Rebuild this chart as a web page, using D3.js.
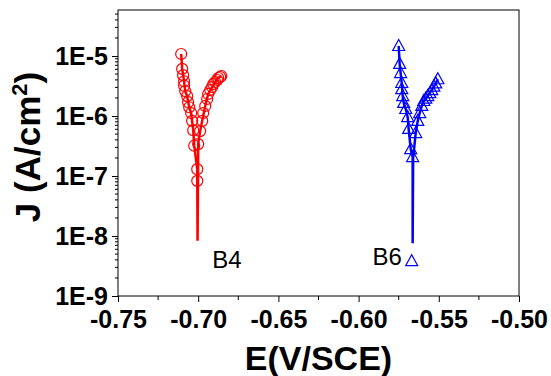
<!DOCTYPE html>
<html>
<head>
<meta charset="utf-8">
<script src="https://cdn.jsdelivr.net/npm/d3@7"></script>
<style>
  body { margin: 0; background: #fff; }
  svg { display: block; font-family: "Liberation Sans", Arial, sans-serif; }
</style>
</head>
<body>
<div id="chart"></div>
<script>
// Tafel curves, E (V vs SCE) vs current density J (A/cm2)
const xTicks = [-0.75, -0.70, -0.65, -0.60, -0.55, -0.50];
const xTickLabels = ["-0.75", "-0.70", "-0.65", "-0.60", "-0.55", "-0.50"];
const yTicks = [1e-9, 1e-8, 1e-7, 1e-6, 1e-5];
const yTickLabels = ["1E-9", "1E-8", "1E-7", "1E-6", "1E-5"];

// B4 : markers
const b4MarkE = [-0.7106, -0.7100, -0.7094, -0.7088, -0.7088, -0.7081, -0.7069, -0.7063, -0.7056, -0.7044,
  -0.7038, -0.7031, -0.7025, -0.7006, -0.7006,
  -0.7000, -0.6988, -0.6975, -0.6969, -0.6956, -0.6944, -0.6938, -0.6925, -0.6913, -0.6906,
  -0.6894, -0.6881, -0.6875, -0.6863, -0.6856];
const b4MarkJ = [1.08e-5, 6.1e-6, 4.8e-6, 3.8e-6, 3.2e-6, 2.6e-6, 2.15e-6, 1.7e-6, 1.4e-6, 1.12e-6,
  8.3e-7, 5.8e-7, 3.2e-7, 1.3e-7, 8.3e-8,
  3.4e-7, 5.6e-7, 8.3e-7, 1.12e-6, 1.47e-6, 1.92e-6, 2.33e-6, 2.71e-6, 3.04e-6, 3.41e-6,
  3.69e-6, 3.98e-6, 4.3e-6, 4.47e-6, 4.64e-6];
// B4 : scan line (includes dip at corrosion potential)
const b4LineE = [-0.7106, -0.7100, -0.7094, -0.7088, -0.7081, -0.7069, -0.7056, -0.7044, -0.7031, -0.7025,
  -0.7006, -0.7006, -0.7004, -0.7001, -0.7000, -0.6988, -0.6975, -0.6956, -0.6938, -0.6913, -0.6894, -0.6875, -0.6856];
const b4LineJ = [1.08e-5, 6.1e-6, 4.8e-6, 3.8e-6, 2.6e-6, 2.15e-6, 1.4e-6, 1.12e-6, 5.8e-7, 3.2e-7,
  1.3e-7, 8.3e-8, 8.3e-9, 1.0e-7, 3.4e-7, 5.6e-7, 8.3e-7, 1.47e-6, 2.33e-6, 3.04e-6, 3.69e-6, 4.3e-6, 4.64e-6];

// B6 : markers
const b6MarkE = [-0.5750, -0.5744, -0.5738, -0.5731, -0.5731, -0.5725, -0.5719, -0.5706, -0.5694, -0.5688,
  -0.5675, -0.5663, -0.5669,
  -0.5644, -0.5631, -0.5619, -0.5606, -0.5594, -0.5581, -0.5569, -0.5556, -0.5544, -0.5531, -0.5519, -0.5506];
const b6MarkJ = [1.47e-5, 7.4e-6, 5.2e-6, 3.55e-6, 2.8e-6, 2.15e-6, 1.65e-6, 1.31e-6, 9.6e-7, 6.1e-7,
  2.8e-7, 2.07e-7, 3.8e-9,
  5.2e-7, 8.3e-7, 1.12e-6, 1.47e-6, 1.78e-6, 1.95e-6, 2.15e-6, 2.4e-6, 2.7e-6, 3.1e-6, 3.5e-6, 4.1e-6];
// B6 : scan line
const b6LineE = [-0.5750, -0.5744, -0.5738, -0.5731, -0.5725, -0.5719, -0.5706, -0.5694, -0.5688, -0.5675,
  -0.5663, -0.5663, -0.5660, -0.5644, -0.5631, -0.5619, -0.5606, -0.5594, -0.5569, -0.5544, -0.5519, -0.5506];
const b6LineJ = [1.47e-5, 7.4e-6, 5.2e-6, 3.55e-6, 2.15e-6, 1.65e-6, 1.31e-6, 9.6e-7, 6.1e-7, 2.8e-7,
  2.07e-7, 7.6e-9, 2.0e-7, 5.2e-7, 8.3e-7, 1.12e-6, 1.47e-6, 1.78e-6, 2.15e-6, 2.7e-6, 3.5e-6, 4.1e-6];

const labels = [
  { text: "B4", e: -0.6913, j: 2.9e-9 },
  { text: "B6", e: -0.5913, j: 3.3e-9 }
];

const width = 551, height = 376;
const margin = { top: 10, right: 32, bottom: 80, left: 118 };

const svg = d3.select("#chart").append("svg")
  .attr("width", width)
  .attr("height", height);

const x = d3.scaleLinear()
  .domain([-0.75, -0.50])
  .range([margin.left, width - margin.right]);

const y = d3.scaleLog()
  .domain([1e-9, Math.pow(10, -4.233)])
  .range([height - margin.bottom, margin.top]);

// frame
svg.append("rect")
  .attr("x", x(-0.75)).attr("y", y.range()[1])
  .attr("width", x(-0.50) - x(-0.75))
  .attr("height", y.range()[0] - y.range()[1])
  .attr("fill", "none")
  .attr("stroke", "#000")
  .attr("stroke-width", 1);

// x axis
const xAxis = svg.append("g")
  .attr("transform", `translate(0,${y.range()[0]})`)
  .call(d3.axisBottom(x).tickValues(xTicks).tickFormat((d, i) => xTickLabels[i]).tickSize(6).tickSizeOuter(0))
  .call(g => g.select(".domain").remove());
xAxis.selectAll("text")
  .attr("font-family", "'Liberation Sans', Arial, sans-serif")
  .attr("font-size", 25).attr("font-weight", "bold")
  .attr("dy", "0.92em").attr("fill", "#000");

const xMinor = d3.range(-0.725, -0.5, 0.05);
svg.append("g").selectAll("line")
  .data(xMinor).join("line")
  .attr("x1", d => x(d)).attr("x2", d => x(d))
  .attr("y1", y.range()[0]).attr("y2", y.range()[0] + 4)
  .attr("stroke", "#000");

// y axis
const yAxis = svg.append("g")
  .attr("transform", `translate(${x.range()[0]},0)`)
  .call(d3.axisLeft(y).tickValues(yTicks).tickFormat((d, i) => yTickLabels[i]).tickSize(6).tickSizeOuter(0))
  .call(g => g.select(".domain").remove());
yAxis.selectAll("text")
  .attr("font-family", "'Liberation Sans', Arial, sans-serif")
  .attr("font-size", 25).attr("font-weight", "bold")
  .attr("x", -10).attr("fill", "#000");

const yMinor = [];
for (let dec = -9; dec <= -5; dec++) {
  for (let k = 2; k <= 9; k++) {
    const v = k * Math.pow(10, dec);
    if (v < y.domain()[1]) yMinor.push(v);
  }
}
svg.append("g").selectAll("line")
  .data(yMinor).join("line")
  .attr("x1", x.range()[0] - 3).attr("x2", x.range()[0])
  .attr("y1", d => y(d)).attr("y2", d => y(d))
  .attr("stroke", "#000");

// axis titles
svg.append("text")
  .attr("x", (x.range()[0] + x.range()[1]) / 2)
  .attr("y", 370)
  .attr("text-anchor", "middle")
  .attr("font-size", 34).attr("font-weight", "bold")
  .text("E(V/SCE)");

const yTitle = svg.append("text")
  .attr("transform", `translate(40,${(y.range()[0] + y.range()[1]) / 2 - 6}) rotate(-90)`)
  .attr("text-anchor", "middle")
  .attr("font-size", 35).attr("font-weight", "bold");
yTitle.append("tspan").text("J (A/cm");
yTitle.append("tspan").attr("font-size", 22).attr("dy", -13).text("2");
yTitle.append("tspan").attr("dy", 13).text(")");

// curves
const line = d3.line().x(d => x(d[0])).y(d => y(d[1]));

const series = [
  { color: "#ff0000", lineE: b4LineE, lineJ: b4LineJ, markE: b4MarkE, markJ: b4MarkJ, shape: "circle" },
  { color: "#0000ff", lineE: b6LineE, lineJ: b6LineJ, markE: b6MarkE, markJ: b6MarkJ, shape: "triangle" }
];

series.forEach(s => {
  const pts = s.lineE.map((e, i) => [e, s.lineJ[i]]);
  svg.append("path")
    .datum(pts)
    .attr("d", line)
    .attr("fill", "none")
    .attr("stroke", s.color)
    .attr("stroke-width", 2.5);

  const marks = s.markE.map((e, i) => [e, s.markJ[i]]);
  const g = svg.append("g");
  if (s.shape === "circle") {
    g.selectAll("circle").data(marks).join("circle")
      .attr("cx", d => x(d[0])).attr("cy", d => y(d[1]))
      .attr("r", 5.5)
      .attr("fill", "none")
      .attr("stroke", s.color)
      .attr("stroke-width", 1.2);
  } else {
    g.selectAll("path").data(marks).join("path")
      .attr("transform", d => `translate(${x(d[0])},${y(d[1])})`)
      .attr("d", "M0,-6.5L6,4.5L-6,4.5Z")
      .attr("fill", "none")
      .attr("stroke", s.color)
      .attr("stroke-width", 1.2);
  }
});

// labels
svg.append("g").selectAll("text")
  .data(labels).join("text")
  .attr("x", d => x(d.e))
  .attr("y", d => y(d.j))
  .attr("font-size", 24)
  .attr("fill", "#000")
  .text(d => d.text);
</script>
</body>
</html>
